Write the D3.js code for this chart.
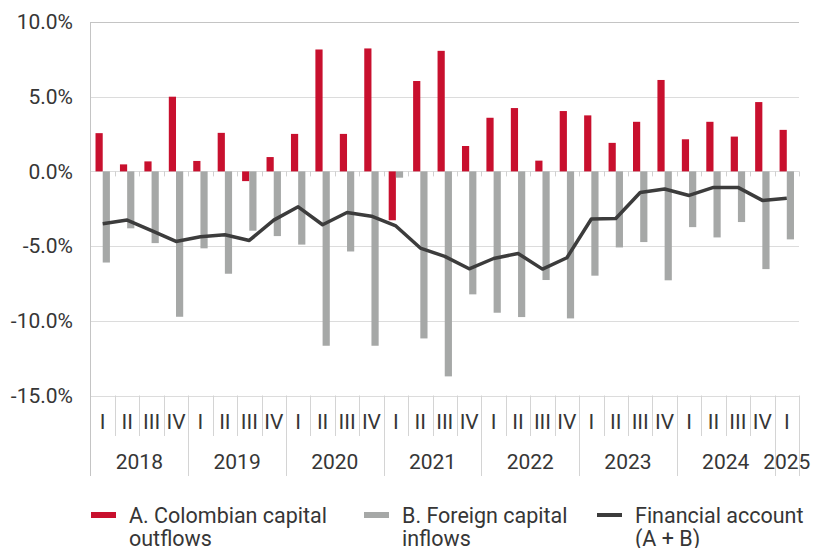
<!DOCTYPE html>
<html>
<head>
<meta charset="utf-8">
<script src="https://cdn.jsdelivr.net/npm/d3@7"></script>
<style>
  body { margin: 0; background: #fff; }
  svg { display: block; font-family: Roboto, "Noto Sans", sans-serif; }
</style>
</head>
<body>
<div id="chart"></div>
<script>
// quarters 2018 Q1 .. 2025 Q1
const years = ["2018", "2019", "2020", "2021", "2022", "2023", "2024", "2025"];
const quarterNames = ["I", "II", "III", "IV"];
const quarters = [];
years.forEach(y => {
    const n = y === "2025" ? 1 : 4;
    for (let i = 0; i < n; i++) quarters.push({ year: y, q: quarterNames[i] });
});

// % of GDP
const outflows = [2.56, 0.47, 0.67, 5.0, 0.7, 2.58, -0.65, 0.96, 2.51, 8.16, 2.51, 8.23,
    -3.27, 6.05, 8.07, 1.7, 3.59, 4.24, 0.72, 4.04, 3.75, 1.91, 3.32, 6.12, 2.15, 3.32, 2.33, 4.64, 2.78];
const inflows = [-6.1, -3.81, -4.8, -9.73, -5.15, -6.85, -3.97, -4.33, -4.9, -11.67, -5.36, -11.67,
    -0.42, -11.18, -13.72, -8.23, -9.46, -9.75, -7.27, -9.84, -6.98, -5.09, -4.73, -7.29, -3.73, -4.42, -3.39, -6.54, -4.55];
const financialAccount = [-3.5, -3.26, -3.97, -4.69, -4.37, -4.24, -4.62, -3.26, -2.37, -3.57, -2.75, -3.0,
    -3.65, -5.13, -5.69, -6.52, -5.83, -5.49, -6.54, -5.78, -3.19, -3.15, -1.41, -1.18, -1.61, -1.07, -1.07, -1.94, -1.79];
const yTicks = [-15, -10, -5, 0, 5, 10];

const W = 814, H = 548;
const plot = { left: 90.5, right: 799, top: 22, bottom: 395.5 };
const red = "#c8102e", grey = "#a6a8a7", dark = "#3c3c3c", txt = "#363636";

const svg = d3.select("#chart").append("svg")
    .attr("width", W)
    .attr("height", H);

const x = d3.scaleBand()
    .domain(d3.range(quarters.length))
    .range([plot.left, plot.right])
    .padding(0);

const y = d3.scaleLinear()
    .domain([-15, 10])
    .range([plot.bottom, plot.top]);

const bw = 7.2;

// gridlines
svg.append("g")
    .selectAll("line")
    .data(yTicks)
    .enter().append("line")
    .attr("x1", plot.left)
    .attr("x2", plot.right)
    .attr("y1", d => Math.round(y(d)) + 0.5)
    .attr("y2", d => Math.round(y(d)) + 0.5)
    .attr("stroke", d => d === 10 ? "#c4c4c4" : "#dcdcdc")
    .attr("stroke-width", 1);

// y labels
svg.append("g")
    .selectAll("text")
    .data(yTicks)
    .enter().append("text")
    .attr("x", 73)
    .attr("y", d => y(d))
    .attr("dy", "0.35em")
    .attr("text-anchor", "end")
    .attr("font-size", 21)
    .attr("fill", txt)
    .text(d => d.toFixed(1) + "%");

// bars
svg.append("g")
    .selectAll("rect")
    .data(outflows)
    .enter().append("rect")
    .attr("x", (d, i) => x(i) + x.bandwidth() / 2 - bw)
    .attr("y", d => y(Math.max(0, d)))
    .attr("width", bw)
    .attr("height", d => Math.abs(y(d) - y(0)))
    .attr("fill", red);

svg.append("g")
    .selectAll("rect")
    .data(inflows)
    .enter().append("rect")
    .attr("x", (d, i) => x(i) + x.bandwidth() / 2)
    .attr("y", d => y(Math.max(0, d)))
    .attr("width", bw)
    .attr("height", d => Math.abs(y(d) - y(0)))
    .attr("fill", grey);

// small ticks on the zero line
svg.append("g")
    .selectAll("line")
    .data(d3.range(1, quarters.length + 1))
    .enter().append("line")
    .attr("x1", i => Math.round(x(i) || plot.right) + 0.5)
    .attr("x2", i => Math.round(x(i) || plot.right) + 0.5)
    .attr("y1", y(0))
    .attr("y2", y(0) + 5)
    .attr("stroke", "#d0d0d0");

// financial account line
const line = d3.line()
    .x((d, i) => x(i) + x.bandwidth() / 2)
    .y(d => y(d));

svg.append("path")
    .datum(financialAccount)
    .attr("fill", "none")
    .attr("stroke", dark)
    .attr("stroke-width", 3.5)
    .attr("stroke-linejoin", "round")
    .attr("d", line);

// y axis line
svg.append("line")
    .attr("x1", plot.left).attr("x2", plot.left)
    .attr("y1", plot.top).attr("y2", 476)
    .attr("stroke", "#c4c4c4");

// category axis: quarter separators + labels
const axis = svg.append("g");
quarters.forEach((d, i) => {
    const xe = i === quarters.length - 1 ? plot.right : x(i + 1);
    const yearEnd = i === quarters.length - 1 || quarters[i + 1].year !== d.year;
    axis.append("line")
        .attr("x1", Math.round(xe) + 0.5).attr("x2", Math.round(xe) + 0.5)
        .attr("y1", plot.bottom)
        .attr("y2", yearEnd ? 476 : 436)
        .attr("stroke", "#d4d4d4");
    axis.append("text")
        .attr("x", x(i) + x.bandwidth() / 2)
        .attr("y", 422)
        .attr("dy", "0.35em")
        .attr("text-anchor", "middle")
        .attr("font-size", 21)
        .attr("fill", txt)
        .text(d.q);
});

years.forEach(yr => {
    const idx = quarters.map((d, i) => d.year === yr ? i : -1).filter(i => i >= 0);
    const x0 = x(idx[0]), x1 = x(idx[idx.length - 1]) + x.bandwidth();
    axis.append("text")
        .attr("x", (x0 + x1) / 2)
        .attr("y", 462)
        .attr("dy", "0.35em")
        .attr("text-anchor", "middle")
        .attr("font-size", 21)
        .attr("fill", txt)
        .text(yr);
});

// legend
const legend = [
    { lines: ["A. Colombian capital", "outflows"], color: red, x: 91, h: 6 },
    { lines: ["B. Foreign capital", "inflows"], color: grey, x: 364, h: 6 },
    { lines: ["Financial account", "(A + B)"], color: dark, x: 597, h: 4 }
];
const lg = svg.append("g");
legend.forEach(d => {
    lg.append("rect")
        .attr("x", d.x)
        .attr("y", 515 - d.h / 2)
        .attr("width", 25)
        .attr("height", d.h)
        .attr("fill", d.color);
    d.lines.forEach((t, j) => {
        lg.append("text")
            .attr("x", d.x + 38)
            .attr("y", 515 + j * 23)
            .attr("dy", "0.35em")
            .attr("font-size", 21.5)
            .attr("fill", txt)
            .text(t);
    });
});
</script>
</body>
</html>
